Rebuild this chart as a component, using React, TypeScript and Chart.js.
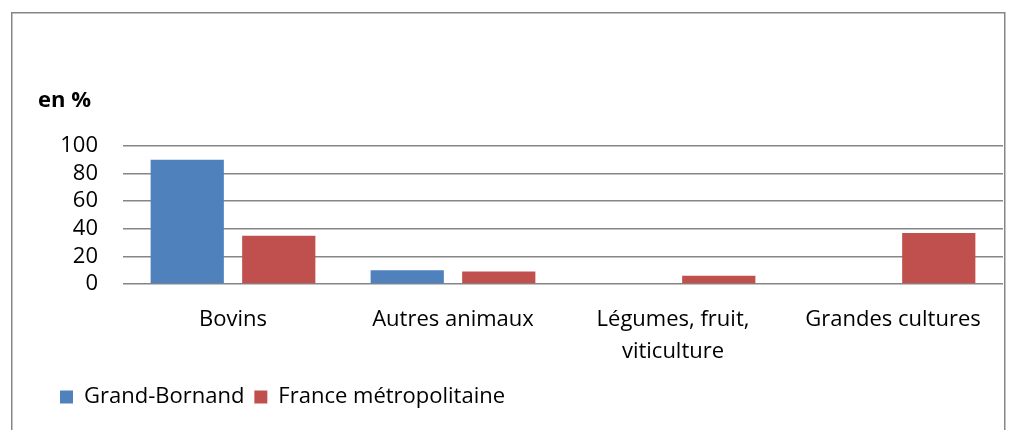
import React, { useEffect, useRef } from 'react';
import { Chart, registerables } from 'chart.js';
Chart.register(...registerables);

const categories: (string | string[])[] = ['Bovins', 'Autres animaux', ['Légumes, fruit,', 'viticulture'], 'Grandes cultures'];
const grandBornand = [90, 10, 0, 0];
const franceMetro = [35, 9, 6, 37];
const seriesNames = ['Grand-Bornand', 'France métropolitaine'];
const yMin = 0;
const yMax = 100;
const yStep = 20;
const unitLabel = 'en %';

const FONT = "'Open Sans', sans-serif";
const FS = 22;

const framePlugin = {
  id: 'frame',
  beforeDraw(chart: any) {
    const ctx = chart.ctx;
    ctx.save();
    ctx.fillStyle = '#ffffff';
    ctx.fillRect(0, 0, chart.width, chart.height);
    ctx.strokeStyle = '#868686';
    ctx.lineWidth = 1.5;
    ctx.strokeRect(11.75, 12.75, 993, 440);
    ctx.fillStyle = '#000000';
    ctx.font = `bold ${FS}px ${FONT}`;
    ctx.textBaseline = 'middle';
    ctx.textAlign = 'left';
    ctx.fillText(unitLabel, 38, 101);
    ctx.restore();
  },
};

export default function App() {
  const ref = useRef<HTMLCanvasElement | null>(null);
  useEffect(() => {
    if (!ref.current) return;
    const chart = new Chart(ref.current, {
      type: 'bar',
      data: {
        labels: categories,
        datasets: [
          { label: seriesNames[0], data: grandBornand, backgroundColor: '#4F81BD', categoryPercentage: 0.832, barPercentage: 0.8 },
          { label: seriesNames[1], data: franceMetro, backgroundColor: '#C0504D', categoryPercentage: 0.832, barPercentage: 0.8 },
        ],
      },
      options: {
        animation: false,
        responsive: false,
        layout: { padding: { top: 146, left: 50, right: 14, bottom: 12 } },
        plugins: {
          tooltip: { enabled: false },
          legend: {
            position: 'bottom',
            align: 'start',
            labels: {
              boxWidth: 13,
              boxHeight: 13,
              padding: 10,
              color: '#000',
              font: { family: FONT, size: FS },
            },
          },
        },
        scales: {
          x: {
            grid: { display: false, drawTicks: false },
            border: { display: false },
            ticks: { color: '#000', padding: 20, maxRotation: 0, autoSkip: false, font: { family: FONT, size: FS, lineHeight: 32 / FS } },
            afterFit: (s: any) => { s.height = 92; },
          },
          y: {
            min: yMin,
            max: yMax,
            grid: { color: '#868686', lineWidth: 1.5, drawTicks: false },
            border: { display: false },
            ticks: { stepSize: yStep, autoSkip: false, color: '#000', padding: 25, font: { family: FONT, size: FS, lineHeight: 1 } },
            afterFit: (s: any) => { s.width = 73; },
          },
        },
      },
      plugins: [framePlugin],
    });
    return () => chart.destroy();
  }, []);
  return (
    <div style={{ position: 'absolute', left: 0, top: 0, width: 1017, height: 430 }}>
      <canvas ref={ref} width={1017} height={430} style={{ display: 'block' }} />
    </div>
  );
}
